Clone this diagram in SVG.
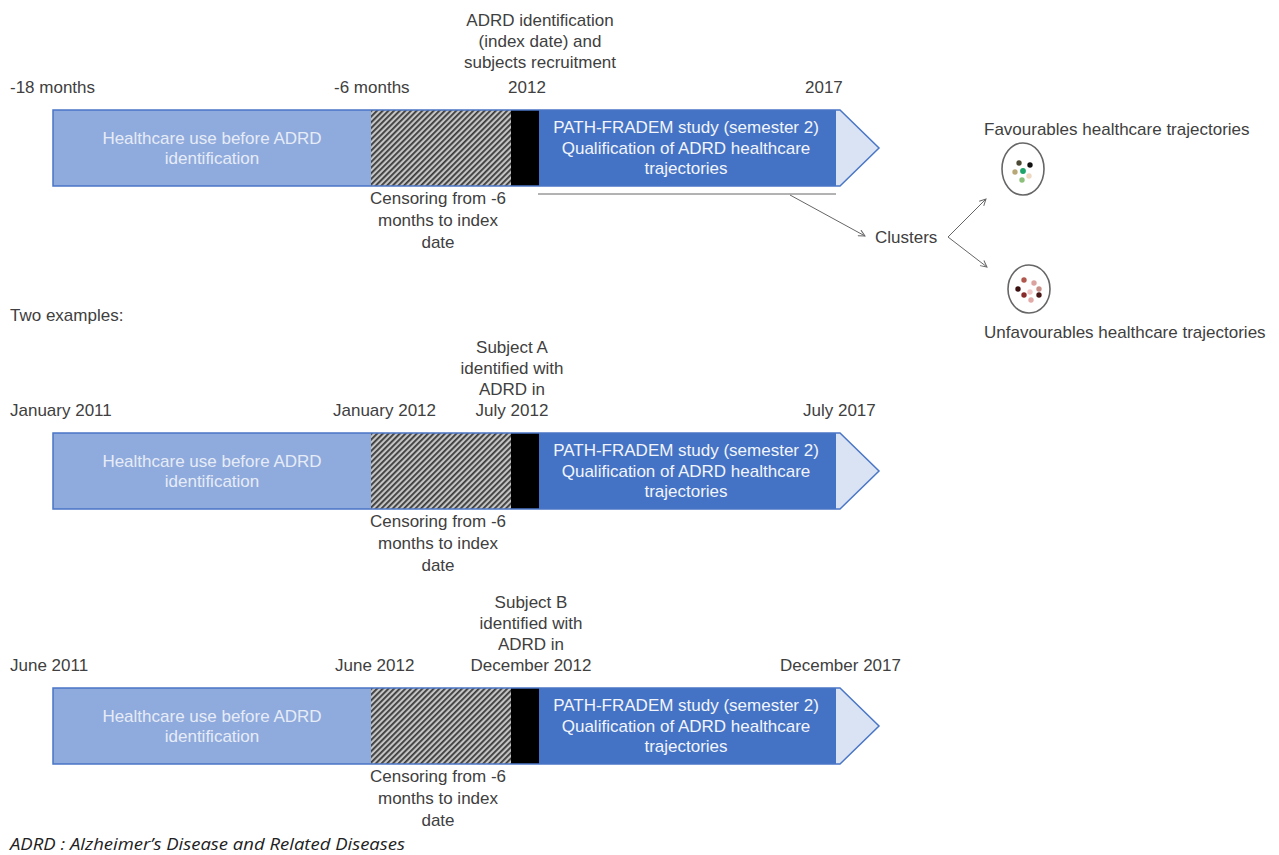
<svg xmlns="http://www.w3.org/2000/svg" width="1279" height="855" viewBox="0 0 1279 855">
<style>
text{font-family:"Liberation Sans",Arial,sans-serif;font-size:17px;fill:#404040}
.c{text-anchor:middle}
.w{fill:#f2f5fb;text-anchor:middle}
.wl{fill:#e6ecf7;text-anchor:middle}
.light{fill:#8faadc}
.dark{fill:#4472c4}
.tip{fill:#dae3f3}
.outline{fill:none;stroke:#4a76c6;stroke-width:1.5}
.conn{stroke:#666;stroke-width:1;fill:none}
.note{font-family:"Open Sans","Noto Sans",sans-serif;fill:#222}
</style>
<defs>
<pattern id="hatch" width="4" height="4" patternUnits="userSpaceOnUse" patternTransform="rotate(45)">
<rect width="4" height="4" fill="#c4c4c4"/>
<rect width="1.8" height="4" fill="#3a3a3a"/>
</pattern>
<marker id="arr" viewBox="0 0 10 10" refX="9" refY="5" markerWidth="8" markerHeight="8" orient="auto">
<path d="M1,1 L9,5 L1,9" fill="none" stroke="#666" stroke-width="1.2"/>
</marker>
<g id="bar">
<rect x="53" y="110" width="318" height="76" class="light"/>
<rect x="371" y="110" width="140" height="76" fill="url(#hatch)"/>
<rect x="511" y="110" width="28" height="76" fill="#000"/>
<rect x="539" y="110" width="297" height="76" class="dark"/>
<polygon points="836,110 840,110 879,148 840,186 836,186" class="tip"/>
<polygon points="53,110 840,110 879,148 840,186 53,186" class="outline"/>
<text class="wl" x="212" y="144">Healthcare use before ADRD</text>
<text class="wl" x="212" y="164">identification</text>
<text class="w" x="686" y="133">PATH-FRADEM study (semester 2)</text>
<text class="w" x="686" y="154">Qualification of ADRD healthcare</text>
<text class="w" x="686" y="174">trajectories</text>
<text class="c" x="438" y="204">Censoring from -6</text>
<text class="c" x="438" y="226">months to index</text>
<text class="c" x="438" y="248">date</text>
</g>
</defs>

<g id="row1">
<use href="#bar"/>
<text x="10" y="93">-18 months</text>
<text x="334" y="93">-6 months</text>
<text class="c" x="540" y="26">ADRD identification</text>
<text class="c" x="540" y="47">(index date) and</text>
<text class="c" x="540" y="68">subjects recruitment</text>
<text class="c" x="527" y="93">2012</text>
<text x="805" y="93">2017</text>
</g>

<g id="row2">
<use href="#bar" transform="translate(0,323)"/>
<text x="10" y="416">January 2011</text>
<text x="333" y="416">January 2012</text>
<text class="c" x="512" y="353">Subject A</text>
<text class="c" x="512" y="374">identified with</text>
<text class="c" x="512" y="395">ADRD in</text>
<text class="c" x="512" y="416">July 2012</text>
<text x="803" y="416">July 2017</text>
</g>

<g id="row3">
<use href="#bar" transform="translate(0,578)"/>
<text x="10" y="671">June 2011</text>
<text x="335" y="671">June 2012</text>
<text class="c" x="531" y="608">Subject B</text>
<text class="c" x="531" y="629">identified with</text>
<text class="c" x="531" y="650">ADRD in</text>
<text class="c" x="531" y="671">December 2012</text>
<text x="780" y="671">December 2017</text>
</g>

<g id="clusters">
<text x="875" y="243">Clusters</text>
</g>

<g id="favourable">
<text x="984" y="135">Favourables healthcare trajectories</text>
<ellipse cx="1023" cy="169" rx="21" ry="26" fill="#fff" stroke="#666" stroke-width="1.6"/>
<circle cx="1019" cy="163" r="2.7" fill="#4d4a35"/>
<circle cx="1030" cy="165" r="2.7" fill="#111"/>
<circle cx="1015" cy="172" r="2.7" fill="#b8a878"/>
<circle cx="1023" cy="171" r="2.9" fill="#1fa36a"/>
<circle cx="1029" cy="176" r="2.7" fill="#efd8c0"/>
<circle cx="1022" cy="180" r="2.7" fill="#8cc07a"/>
</g>

<g id="unfavourable">
<ellipse cx="1029" cy="289" rx="21" ry="24" fill="#fff" stroke="#666" stroke-width="1.6"/>
<circle cx="1024" cy="280" r="2.7" fill="#b0584e"/>
<circle cx="1034" cy="283" r="2.7" fill="#dba4a0"/>
<circle cx="1018" cy="289" r="2.7" fill="#3a1010"/>
<circle cx="1030" cy="292" r="2.7" fill="#f1c8c8"/>
<circle cx="1039" cy="289" r="2.7" fill="#c89088"/>
<circle cx="1024" cy="295" r="2.7" fill="#8a2a2a"/>
<circle cx="1039" cy="295" r="2.7" fill="#4a1515"/>
<circle cx="1031" cy="300" r="2.7" fill="#e3a8a8"/>
<text x="984" y="338">Unfavourables healthcare trajectories</text>
</g>

<g id="connectors">
<line x1="538" y1="194" x2="836" y2="194" class="conn"/>
<line x1="790" y1="195" x2="865" y2="236" class="conn" marker-end="url(#arr)"/>
<line x1="948" y1="237" x2="986" y2="199" class="conn" marker-end="url(#arr)"/>
<line x1="948" y1="237" x2="987" y2="267" class="conn" marker-end="url(#arr)"/>
</g>

<text x="10" y="321" font-size="15" fill="#222">Two examples:</text>
<text class="note" x="10" y="850" font-size="17" font-style="italic" textLength="395" lengthAdjust="spacingAndGlyphs">ADRD : Alzheimer’s Disease and Related Diseases</text>
</svg>
